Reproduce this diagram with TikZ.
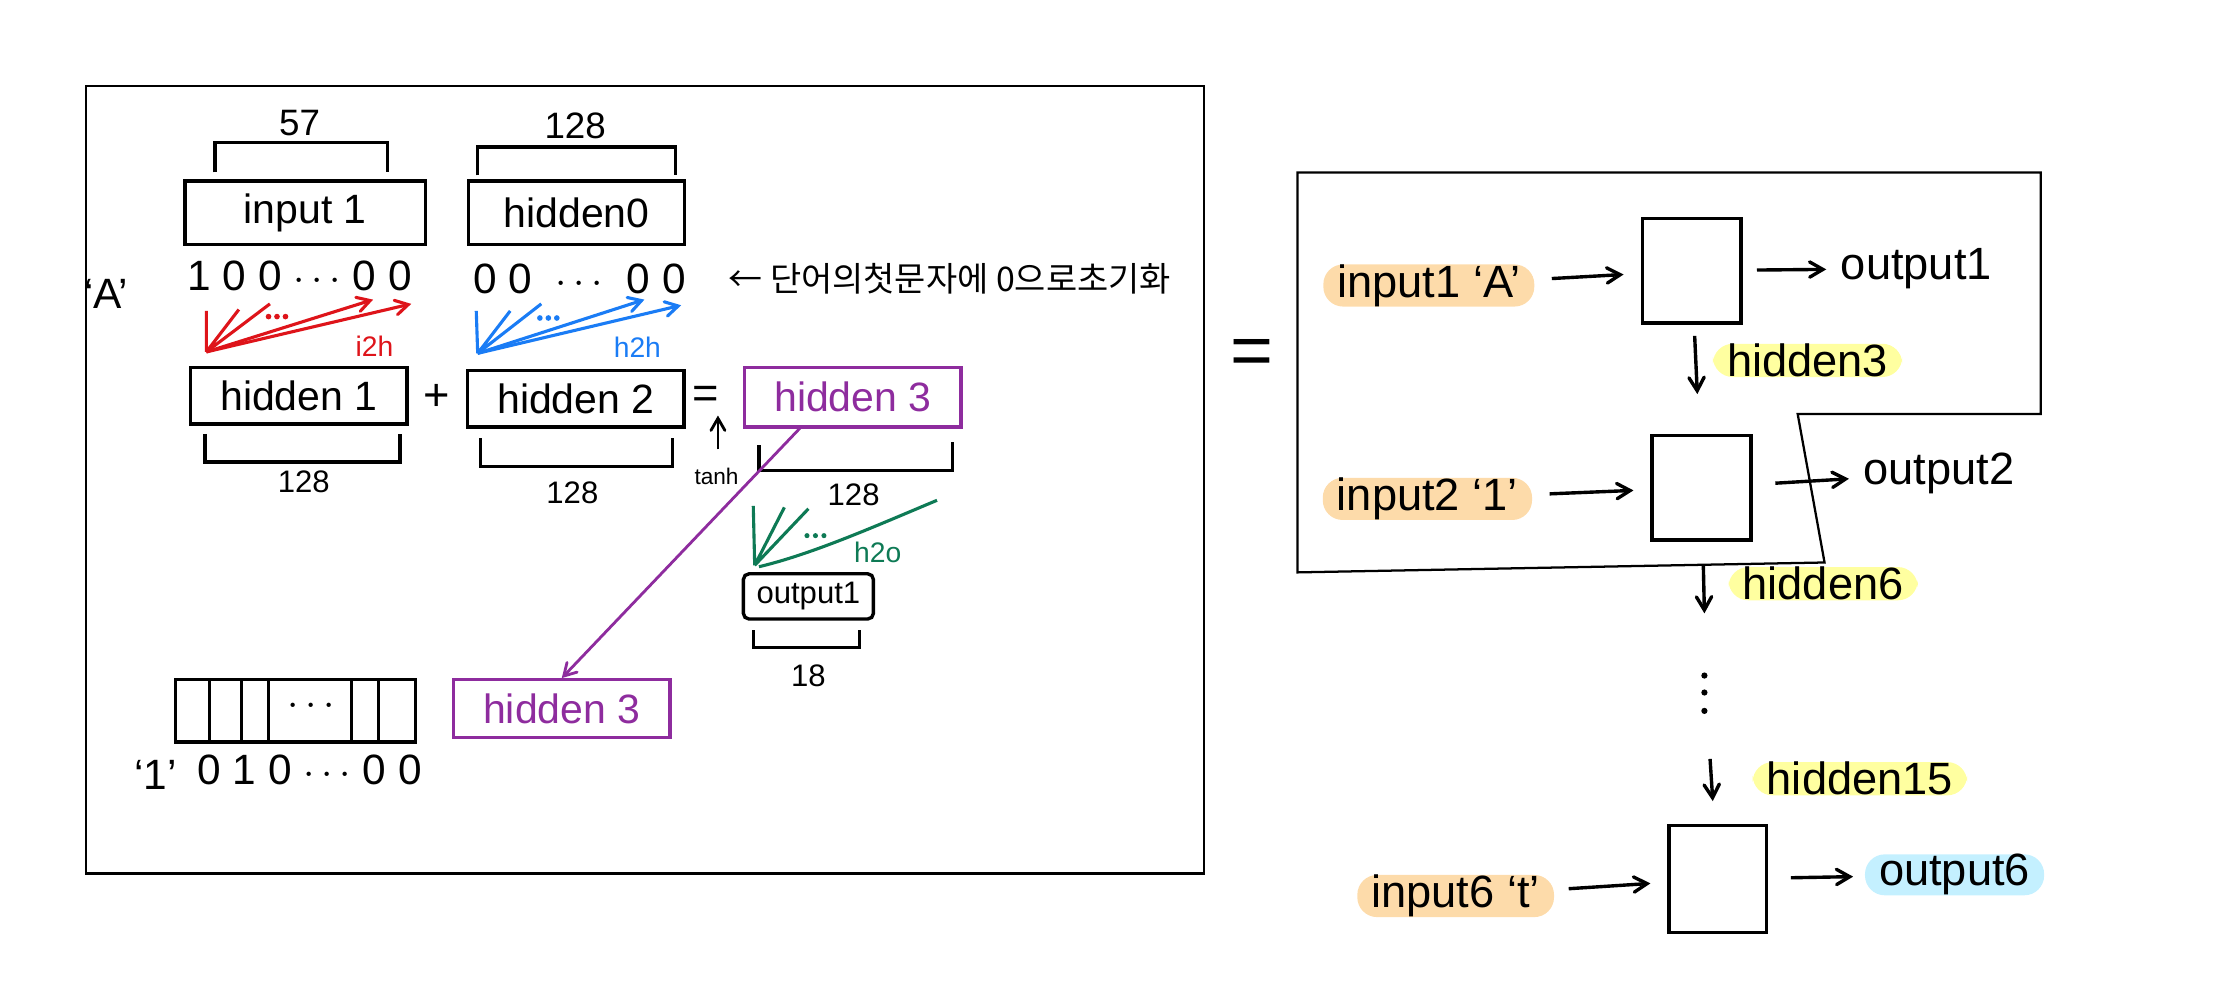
\documentclass[tikz,border=0pt]{standalone}
\usepackage{fontspec}
\setmainfont{Liberation Sans}
\newfontfamily\krfont{Noto Sans CJK KR}
\usepackage{tikz}
\usetikzlibrary{arrows,shapes,positioning}
\definecolor{wred}{RGB}{222,20,26}
\definecolor{wblue}{RGB}{26,124,245}
\definecolor{wpurple}{RGB}{142,44,158}
\definecolor{wgreen}{RGB}{14,122,85}
\definecolor{hlorange}{RGB}{253,219,170}
\definecolor{hlyellow}{RGB}{255,255,160}
\definecolor{hlcyan}{RGB}{196,240,255}
\begin{document}
\begin{tikzpicture}[x=0.5pt,y=-0.5pt]
\tikzstyle{every node}=[font=\fontsize{14.5}{17}\selectfont, inner sep=2pt]
\tikzstyle{blk}=[draw, line width=1.2pt, minimum width=76.5pt, minimum height=20pt]
\tikzstyle{cell}=[draw, line width=1.2pt, minimum width=35pt, minimum height=37pt]
\tikzstyle{hl}=[fill=#1, rounded corners=7pt, inner xsep=5pt, inner ysep=0pt, font=\fontsize{16}{18}\selectfont]
\tikzstyle{rtext}=[font=\fontsize{16}{18}\selectfont]
\tikzstyle{bits}=[font=\fontsize{15}{17}\selectfont]
\tikzstyle{size}=[font=\fontsize{11}{13}\selectfont]
\tikzstyle{wt}=[font=\fontsize{10}{12}\selectfont]
\tikzstyle{brk}=[line width=1.2pt]
\useasboundingbox (0,0) rectangle (1568,708);
% left frame
\draw[line width=0.8pt] (61,61) rectangle (852,618);
% input 1 and hidden0
\node[blk, minimum width=85pt, minimum height=22.5pt] (in1) at (216,150.5) {input 1};
\node[blk, minimum height=22.5pt] (h0) at (408,150.5) {hidden0};
\draw[brk] (152,122)--(152,101)--(274,101)--(274,122); \node[font=\fontsize{13}{15}\selectfont] (n57) at (212,87) {57};
\draw[brk] (338,124)--(338,104)--(478,104)--(478,124); \node[font=\fontsize{13}{15}\selectfont] (n128a) at (407,89) {128};
% one-hot of 'A' and zero hidden
\node[bits] (qa) at (75,208) {`A'};
\node[bits] (bitsA) at (212,195) {1 0 0 $\cdots$ 0 0};
\node[bits] (bits0) at (410,197) {0 0 \ $\cdots$ \ 0 0};
\node[font=\krfont\fontsize{12}{14}\selectfont] (kr) at (672,197) {← 단어의첫문자에 0으로초기화};
% i2h weights
\coordinate (rs) at (146,249);
\coordinate (r1) at (146,220); \coordinate (r2) at (169,219); \coordinate (r3) at (191,215);
\coordinate (r4) at (264,212); \coordinate (r5) at (291,215);
\draw[wred, line width=1.1pt] (rs)--(r1) (rs)--(r2) (rs)--(r3);
\draw[wred, line width=1.1pt, ->, >=angle 60] (rs)--(r4);
\draw[wred, line width=1.1pt, ->, >=angle 60] (rs)--(r5);
\foreach \dx in {190,196,202} \fill[wred] (\dx,224) circle (2);
\node[wred, wt] (i2h) at (265,245) {i2h};
% h2h weights
\coordinate (bs) at (338,250);
\coordinate (b1) at (337,220); \coordinate (b2) at (361,220); \coordinate (b3) at (383,215);
\coordinate (b4) at (456,212); \coordinate (b5) at (482,216);
\draw[wblue, line width=1.1pt] (bs)--(b1) (bs)--(b2) (bs)--(b3);
\draw[wblue, line width=1.1pt, ->, >=angle 60] (bs)--(b4);
\draw[wblue, line width=1.1pt, ->, >=angle 60] (bs)--(b5);
\foreach \dx in {382,388,394} \fill[wblue] (\dx,225) circle (2);
\node[wblue, wt] (h2h) at (451,246) {h2h};
% hidden1 + hidden2 = hidden3
\node[blk] (h1) at (211.5,280) {hidden 1};
\node[font=\fontsize{16}{18}\selectfont] (plus) at (309,281) {+};
\node[blk] (h2) at (407.5,282) {hidden 2};
\node[font=\fontsize{16}{18}\selectfont] (eq) at (499,281) {=};
\node[blk, draw=wpurple, text=wpurple, minimum height=21pt] (h3) at (603.5,281) {hidden 3};
\draw[brk] (145,307)--(145,327)--(283,327)--(283,307); \node[size] (n128b) at (215,341) {128};
\draw[brk] (340,310)--(340,330)--(476,330)--(476,310); \node[size] (n128c) at (405,349) {128};
\draw[brk] (537,315)--(537,333)--(674,333)--(674,313); \node[size] (n128d) at (604,350) {128};
% tanh
\coordinate (t0) at (508,318); \coordinate (t1) at (508,294);
\draw[line width=1pt, ->, >=angle 60] (t0)--(t1);
\node[font=\fontsize{8}{9}\selectfont] (tanh) at (507,337) {tanh};
% h2o weights
\coordinate (gs) at (534,400);
\coordinate (g1) at (533,358); \coordinate (g2) at (555,359); \coordinate (g3) at (572,360);
\coordinate (g4) at (663,354);
\draw[wgreen, line width=1.1pt] (gs)--(g1) (gs)--(g2) (gs)--(g3);
\draw[wgreen, line width=1.1pt] (537,401) .. controls (575,392) and (620,372) .. (g4);
\foreach \dx in {571,577,583} \fill[wgreen] (\dx,379) circle (1.8);
\node[wgreen, wt] (h2o) at (621,391) {h2o};
\node[draw, line width=1.2pt, rounded corners=2pt, minimum width=46pt, minimum height=16pt, font=\fontsize{11}{13}\selectfont] (out1) at (572,422) {output1};
\draw[brk] (533,446)--(533,458)--(608,458)--(608,446); \node[size] (n18) at (572,478) {18};
% next step: '1'
\node[draw, line width=1.2pt, minimum width=85pt, minimum height=22pt] (cells) at (209,503) {};
\foreach \cx in {148,171,190,249,268} \draw[line width=1pt] (cells.north -| \cx,0) -- (cells.south -| \cx,0);
\node (cdots) at (220,500) {$\cdots$};
\node[bits] (q1) at (110,548) {`1'};
\node[bits] (bits1) at (219,545) {0 1 0 $\cdots$ 0 0};
\node[blk, draw=wpurple, text=wpurple, minimum height=20.5pt] (h3b) at (397.5,501.5) {hidden 3};
\coordinate (p3) at (566,303);
\draw[wpurple, line width=1pt, ->, >=angle 60] (p3) -- (h3b.north);
% unrolled view
\node[font=\fontsize{26}{30}\selectfont] (eqr) at (886,253) {=};
\draw[line width=0.8pt] (918,122)--(1444,122)--(1444,293)--(1272,293)--(1291,398)--(918,405)--cycle;
%step 1
\node[hl=hlorange] (i1) at (1011,202) {input1 `A'};
\node[cell] (c1) at (1197,191.5) {};
\node[rtext] (o1) at (1356,190) {output1};
\draw[line width=1.2pt, ->, >=angle 60, shorten <=6pt, shorten >=6pt] (i1) -- (c1);
\draw[line width=1.2pt, ->, >=angle 60, shorten <=5pt, shorten >=3pt] (c1) -- (o1);
\node[hl=hlyellow] (hh3) at (1279,255) {hidden3};
%step 2
\node[hl=hlorange] (i2) at (1010,353) {input2 `1'};
\node[cell] (c2) at (1204,345) {};
\node[rtext] (o2) at (1372,335) {output2};
\draw[line width=1.2pt, ->, >=angle 60, shorten <=6pt, shorten >=6pt] (i2) -- (c2);
\draw[line width=1.2pt, ->, >=angle 60, shorten <=8pt, shorten >=3pt] (c2) -- (o2);
\draw[line width=1.2pt, ->, >=angle 60, shorten <=4pt, shorten >=14pt] (c1) -- (c2);
\node[hl=hlyellow] (hh6) at (1290,413) {hidden6};
\coordinate (d6) at (1206,434);
\draw[line width=1.2pt, ->, >=angle 60, shorten <=8pt] (c2) -- (d6);
% dots
\foreach \dy in {478,490,503} \fill (1206,\dy) circle (2.2);
\coordinate (d15) at (1210,537);
\node[hl=hlyellow] (hh15) at (1316,551) {hidden15};
%step 6
\node[hl=hlorange] (i3) at (1030,634) {input6 `t'};
\node[cell, minimum width=34.5pt, minimum height=38pt] (c3) at (1215.5,622) {};
\node[hl=hlcyan] (o3) at (1383,619) {output6};
\draw[line width=1.2pt, ->, >=angle 60, shorten >=8pt] (d15) -- (c3);
\draw[line width=1.2pt, ->, >=angle 60, shorten <=5pt, shorten >=6pt] (i3) -- (c3);
\draw[line width=1.2pt, ->, >=angle 60, shorten <=8pt, shorten >=4pt] (c3) -- (o3);
\end{tikzpicture}
\end{document}
